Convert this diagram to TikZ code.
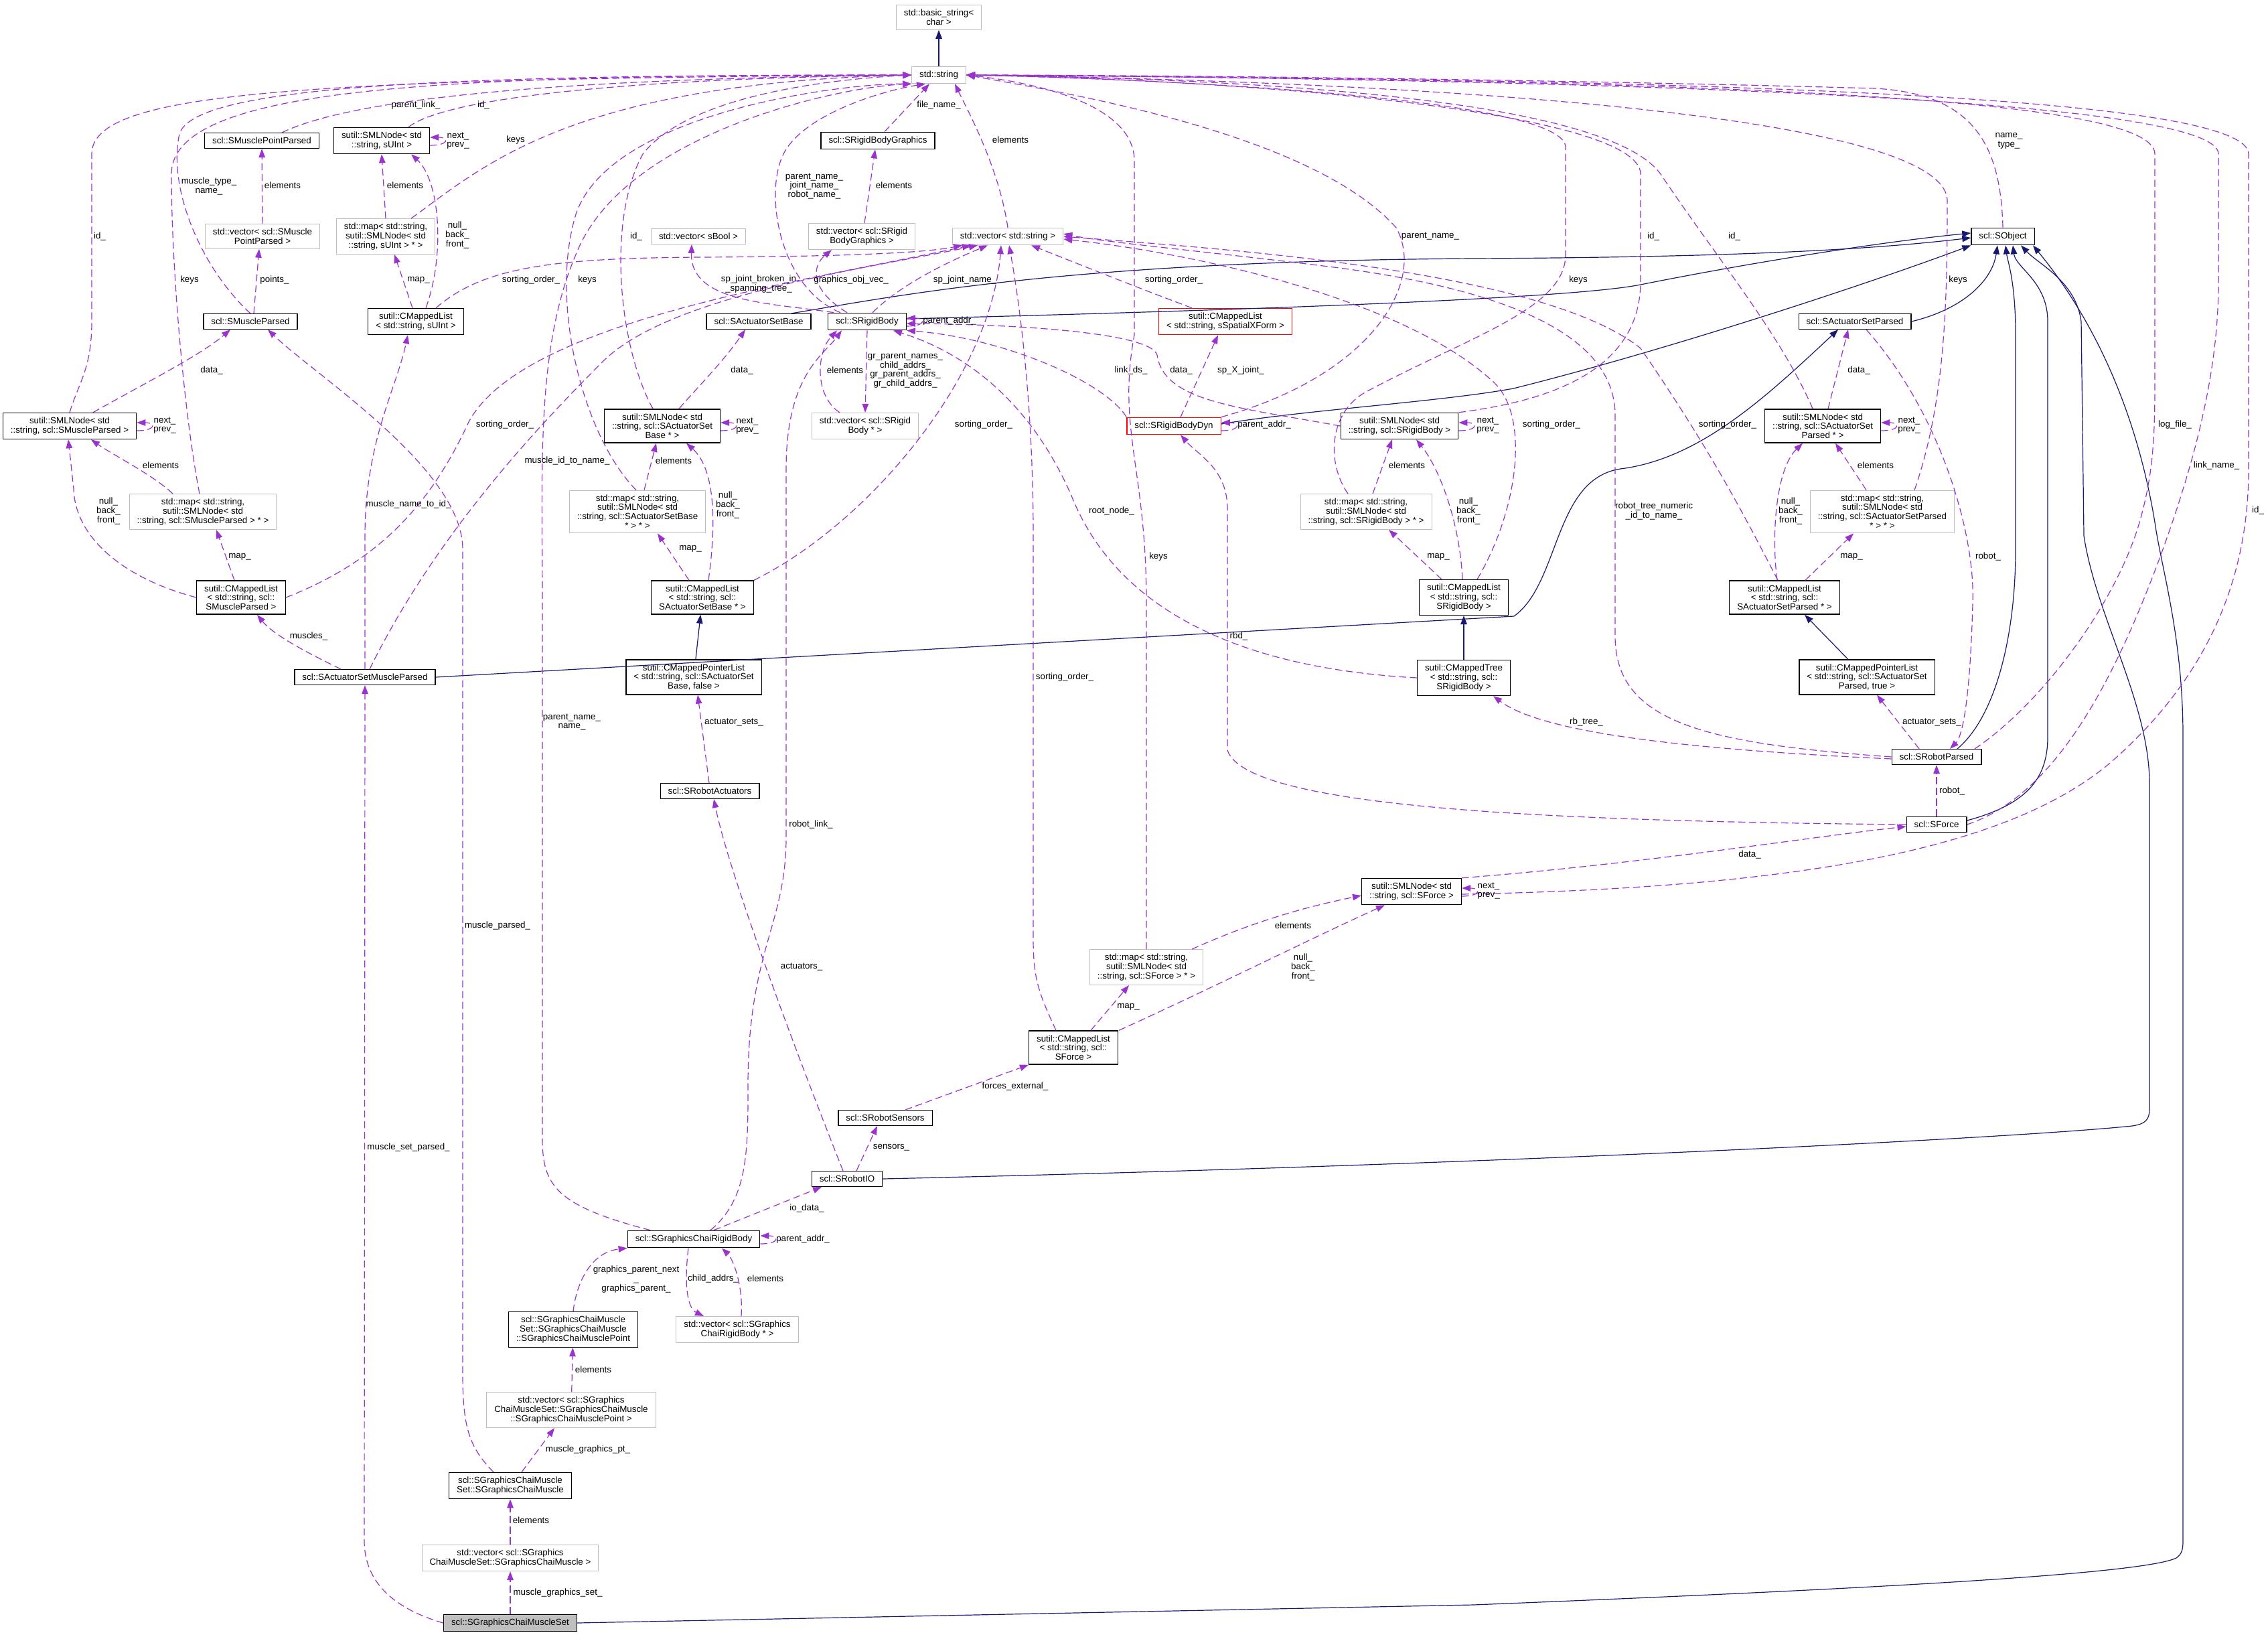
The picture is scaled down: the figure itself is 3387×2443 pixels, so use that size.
\documentclass[tikz,border=0pt]{standalone}
\usepackage{fontspec}
\setmainfont{Liberation Sans}
\usetikzlibrary{arrows.meta}
\definecolor{memberpurple}{RGB}{154,50,205}
\definecolor{inheritblue}{RGB}{25,25,112}
\definecolor{boxgray}{RGB}{191,191,191}
\newcommand{\dxfont}{\fontsize{3.8pt}{3.9pt}\selectfont}

\tikzset{
  cls/.style={draw=black, line width=0.13mm, fill=white, font=\dxfont, align=center, inner xsep=1.15mm, inner ysep=0.65mm},
  extcls/.style={cls, draw=boxgray, line width=0.1mm},
  redcls/.style={cls, draw=red},
  rootcls/.style={cls, fill=boxgray},
  member/.style={draw=memberpurple, line width=0.12mm, dash pattern=on 1.05mm off 0.55mm, -{Triangle[length=1.3mm,width=0.95mm]}},
  inherit/.style={draw=inheritblue, line width=0.12mm, -{Triangle[length=1.3mm,width=0.95mm]}},
  lbl/.style={font=\dxfont, align=center, inner sep=0pt}
}

\begin{document}
\begin{tikzpicture}[x=0.1mm, y=-0.1mm]
  \useasboundingbox (0,0) rectangle (3387,2443);

  % ---------- string types ----------
  \node[extcls] (bstr) at (1402,26) {std::basic\_string<\\char >};
  \node[extcls] (str) at (1402,112) {std::string};
  \node[extcls] (vecstr) at (1505,353) {std::vector< std::string >};
  \node[extcls] (vecbool) at (1043,353) {std::vector< sBool >};

  % ---------- muscle side ----------
  \node[cls] (mpp) at (391,210) {scl::SMusclePointParsed};
  \node[cls] (nodeUI) at (570,210) {sutil::SMLNode< std\\::string, sUInt >};
  \node[extcls] (vecmpp) at (392,353) {std::vector< scl::SMuscle\\PointParsed >};
  \node[extcls] (mapUI) at (576,353) {std::map< std::string,\\ sutil::SMLNode< std\\::string, sUInt > * >};
  \node[cls] (mp) at (374,480) {scl::SMuscleParsed};
  \node[cls] (mlUI) at (621,480) {sutil::CMappedList\\< std::string, sUInt >};
  \node[cls] (nodeMP) at (104,636) {sutil::SMLNode< std\\::string, scl::SMuscleParsed >};
  \node[extcls] (mapMP) at (303,764) {std::map< std::string,\\ sutil::SMLNode< std\\::string, scl::SMuscleParsed > * >};
  \node[cls] (mlMP) at (360,892) {sutil::CMappedList\\< std::string, scl::\\SMuscleParsed >};
  \node[cls] (asmp) at (545,1011) {scl::SActuatorSetMuscleParsed};

  % ---------- actuator set base ----------
  \node[cls] (asetbase) at (1133,480) {scl::SActuatorSetBase};
  \node[cls] (nodeASB) at (989,636) {sutil::SMLNode< std\\::string, scl::SActuatorSet\\Base * >};
  \node[extcls] (mapASB) at (952,764) {std::map< std::string,\\ sutil::SMLNode< std\\::string, scl::SActuatorSetBase\\ * > * >};
  \node[cls] (mlASB) at (1049,892) {sutil::CMappedList\\< std::string, scl::\\SActuatorSetBase * >};
  \node[cls] (mplASB) at (1036,1011) {sutil::CMappedPointerList\\< std::string, scl::SActuatorSet\\Base, false >};
  \node[cls] (ract) at (1060,1181) {scl::SRobotActuators};

  % ---------- rigid bodies ----------
  \node[cls] (rbgfx) at (1311,210) {scl::SRigidBodyGraphics};
  \node[extcls] (vecrbgfx) at (1287,353) {std::vector< scl::SRigid\\BodyGraphics >};
  \node[cls] (rb) at (1295,480) {scl::SRigidBody};
  \node[redcls] (mlxform) at (1830,480) {sutil::CMappedList\\< std::string, sSpatialXForm >};
  \node[extcls] (vecrbp) at (1292,636) {std::vector< scl::SRigid\\Body * >};
  \node[redcls] (rbdyn) at (1753,636) {scl::SRigidBodyDyn};
  \node[cls] (nodeRB) at (2090,636) {sutil::SMLNode< std\\::string, scl::SRigidBody >};
  \node[extcls] (mapRB) at (2040,764) {std::map< std::string,\\ sutil::SMLNode< std\\::string, scl::SRigidBody > * >};
  \node[cls] (mlRB) at (2186,892) {sutil::CMappedList\\< std::string, scl::\\SRigidBody >};
  \node[cls] (mtRB) at (2186,1012) {sutil::CMappedTree\\< std::string, scl::\\SRigidBody >};

  % ---------- robot side ----------
  \node[cls] (sobj) at (2991,353) {scl::SObject};
  \node[cls] (asp) at (2770,480) {scl::SActuatorSetParsed};
  \node[cls] (nodeASP) at (2722,636) {sutil::SMLNode< std\\::string, scl::SActuatorSet\\Parsed * >};
  \node[extcls] (mapASP) at (2811,764) {std::map< std::string,\\ sutil::SMLNode< std\\::string, scl::SActuatorSetParsed\\ * > * >};
  \node[cls] (mlASP) at (2665,892) {sutil::CMappedList\\< std::string, scl::\\SActuatorSetParsed * >};
  \node[cls] (mplASP) at (2788,1011) {sutil::CMappedPointerList\\< std::string, scl::SActuatorSet\\Parsed, true >};
  \node[cls] (rparsed) at (2892,1130) {scl::SRobotParsed};
  \node[cls] (sforce) at (2892,1231) {scl::SForce};
  \node[cls] (nodeF) at (2108,1331) {sutil::SMLNode< std\\::string, scl::SForce >};
  \node[extcls] (mapF) at (1712,1444) {std::map< std::string,\\ sutil::SMLNode< std\\::string, scl::SForce > * >};
  \node[cls] (mlF) at (1603,1564) {sutil::CMappedList\\< std::string, scl::\\SForce >};
  \node[cls] (rsens) at (1322,1669) {scl::SRobotSensors};
  \node[cls] (rio) at (1265,1760) {scl::SRobotIO};

  % ---------- graphics ----------
  \node[cls] (gcrb) at (1036,1850) {scl::SGraphicsChaiRigidBody};
  \node[cls] (gcmp) at (856,1985) {scl::SGraphicsChaiMuscle\\Set::SGraphicsChaiMuscle\\::SGraphicsChaiMusclePoint};
  \node[extcls] (vecgcrb) at (1101,1985) {std::vector< scl::SGraphics\\ChaiRigidBody * >};
  \node[extcls] (vecgcmp) at (853,2105) {std::vector< scl::SGraphics\\ChaiMuscleSet::SGraphicsChaiMuscle\\::SGraphicsChaiMusclePoint >};
  \node[cls] (gcm) at (762,2218) {scl::SGraphicsChaiMuscle\\Set::SGraphicsChaiMuscle};
  \node[extcls] (vecgcm) at (762,2326) {std::vector< scl::SGraphics\\ChaiMuscleSet::SGraphicsChaiMuscle >};
  \node[rootcls] (gcms) at (762,2423) {scl::SGraphicsChaiMuscleSet};

  % ---------- inheritance ----------
  \draw[inherit] (str) -- (bstr);
  \draw[inherit] (mplASB) -- (mlASB);
  \draw[inherit] (mtRB) -- (mlRB);
  \draw[inherit] ([xshift=-2.8mm]mplASP.north) -- ([xshift=3mm]mlASP.south);
  \draw[inherit] ([xshift=-3mm]asetbase.north east) .. controls (1350,440) and (1600,390) .. (2200,386) .. controls (2600,384) and (2800,372) .. ([yshift=-0.2mm]sobj.west);
  \draw[inherit] ([yshift=0.4mm]rb.east) .. controls (1900,462) and (2350,445) .. (2450,425) .. controls (2600,395) and (2800,362) .. ([yshift=0.5mm]sobj.west);
  \draw[inherit] ([yshift=0.3mm]rbdyn.east) .. controls (1950,612) and (2150,600) .. (2260,580) .. controls (2500,520) and (2800,420) .. (sobj.south west);
  \draw[inherit] (asmp.east) -- (2261,920) .. controls (2330,870) and (2320,715) .. (2420,700) .. controls (2540,685) and (2640,590) .. ([xshift=-2.5mm]asp.south);
  \draw[inherit] (asp.east) .. controls (2930,462) and (2975,420) .. ([xshift=-0.8mm]sobj.south);
  \draw[inherit] ([xshift=3.1mm]rparsed.north) .. controls (2980,1070) and (3010,950) .. (3010,820) -- (3010,500) .. controls (3010,420) and (2998,390) .. ([xshift=0.4mm]sobj.south);
  \draw[inherit] ([yshift=0.6mm]sforce.east) .. controls (3030,1200) and (3058,1160) .. (3058,1100) -- (3058,480) .. controls (3058,420) and (3010,400) .. ([xshift=1.5mm]sobj.south);
  \draw[inherit] (rio.east) .. controls (2200,1740) and (3000,1700) .. (3184,1681) .. controls (3204,1678) and (3210,1672) .. (3210,1655) -- (3210,1170) .. controls (3210,1050) and (3130,920) .. (3112,800) -- (3108,480) .. controls (3100,420) and (3045,395) .. ([xshift=2.7mm]sobj.south);
  \draw[inherit] (gcms.east) -- (2200,2396) .. controls (2800,2372) and (3200,2350) .. (3250,2326) .. controls (3258,2320) and (3260,2315) .. (3260,2300) -- (3260,1100) .. controls (3260,950) and (3228,850) .. (3218,780) .. controls (3180,550) and (3080,420) .. ([xshift=4.5mm]sobj.south);

  % ---------- members into std::string ----------
  \draw[member] (nodeMP.north) .. controls (118,570) and (137,550) .. (137,480) -- (137,230) .. controls (137,140) and (420,118) .. (str.west);
  \draw[member] ([xshift=3mm]mpp.north) .. controls (520,150) and (800,118) .. (str.west);
  \draw[member] ([xshift=4mm]nodeUI.north) .. controls (660,150) and (900,118) .. (str.west);
  \draw[member] (mp.north) .. controls (300,400) and (250,280) .. (268,200) .. controls (290,125) and (700,112) .. (str.west);
  \draw[member] ([xshift=-0.5mm]mapMP.north) .. controls (275,620) and (256,400) .. (256,260) .. controls (256,130) and (650,112) .. (str.west);
  \draw[member] ([xshift=3.8mm]mapUI.north) .. controls (720,250) and (850,125) .. (str.west);
  \draw[member] ([xshift=-1.4mm]nodeASB.north) .. controls (925,520) and (905,330) .. (960,230) .. controls (1030,140) and (1250,118) .. (str.west);
  \draw[member] ([xshift=-0.2mm]mapASB.north) .. controls (870,650) and (820,450) .. (860,320) .. controls (910,170) and (1250,125) .. (str.south west);
  \draw[member] ([xshift=-6.5mm]gcrb.north) .. controls (830,1800) and (810,1770) .. (810,1700) -- (810,900) .. controls (810,700) and (800,520) .. (860,380) .. controls (930,200) and (1250,130) .. (str.south west);
  \draw[member] ([xshift=-4mm]rb.north) .. controls (1165,430) and (1140,290) .. (1170,230) .. controls (1200,170) and (1320,135) .. ([xshift=-2mm]str.south);
  \draw[member] ([xshift=1mm]rbgfx.north) -- ([xshift=-1.4mm]str.south);
  \draw[member] (vecstr.north) .. controls (1492,250) and (1445,165) .. ([xshift=2.4mm]str.south);
  \draw[member] (rbdyn.north east) .. controls (2050,560) and (2130,420) .. (2085,340) .. controls (1960,200) and (1600,140) .. (str.east);
  \draw[member] (mapF.north) -- (1712,900) .. controls (1712,700) and (1668,640) .. (1694,500) -- (1694,240) .. controls (1694,160) and (1560,125) .. (str.east);
  \draw[member] ([xshift=-2.7mm]mapRB.north) .. controls (1980,690) and (1985,615) .. (2040,585) .. controls (2200,500) and (2338,460) .. (2338,380) -- (2338,220) .. controls (2338,150) and (1800,120) .. (str.east);
  \draw[member] (nodeRB.north east) .. controls (2300,600) and (2450,560) .. (2450,420) -- (2450,260) .. controls (2450,170) and (1900,120) .. (str.east);
  \draw[member] ([xshift=-1.5mm]nodeASP.north) .. controls (2660,500) and (2560,380) .. (2480,260) .. controls (2400,150) and (1900,118) .. (str.east);
  \draw[member] ([xshift=4.8mm]mapASP.north) .. controls (2905,600) and (2908,450) .. (2908,300) .. controls (2908,160) and (2000,120) .. (str.east);
  \draw[member] (sobj.north) .. controls (2988,220) and (2950,140) .. (2800,132) .. controls (2300,118) and (1700,112) .. (str.east);
  \draw[member] ([xshift=5.7mm]rparsed.north) .. controls (3050,1050) and (3160,900) .. (3195,780) .. controls (3218,700) and (3218,640) .. (3218,550) -- (3218,230) .. controls (3218,140) and (2500,120) .. (str.east);
  \draw[member] (sforce.east) .. controls (3060,1190) and (3150,1040) .. (3230,820) .. controls (3295,640) and (3313,520) .. (3313,420) -- (3313,230) .. controls (3313,150) and (2500,120) .. (str.east);
  \draw[member] ([yshift=-0.4mm]nodeF.east) .. controls (2700,1325) and (3000,1265) .. (3150,1140) .. controls (3300,1010) and (3358,860) .. (3358,700) -- (3358,230) .. controls (3358,140) and (2500,118) .. (str.east);

  % ---------- members into std::vector< std::string > ----------
  \draw[member] ([xshift=3mm]mlUI.north) .. controls (720,400) and (820,385) .. (1050,384) .. controls (1250,383) and (1380,378) .. ([xshift=-6.8mm]vecstr.south);
  \draw[member] (mlMP.east) .. controls (560,840) and (640,760) .. (700,630) .. controls (780,480) and (1200,420) .. ([xshift=-5.5mm]vecstr.south);
  \draw[member] ([xshift=0.7mm]asmp.north) .. controls (650,800) and (800,640) .. (900,540) .. controls (1000,440) and (1300,400) .. ([xshift=-4.5mm]vecstr.south);
  \draw[member] (mlASB.north east) .. controls (1300,780) and (1480,560) .. ([xshift=-1mm]vecstr.south);
  \draw[member] ([xshift=0.8mm]rb.north) .. controls (1350,420) and (1430,385) .. ([xshift=-3mm]vecstr.south);
  \draw[member] ([xshift=-5mm]mlxform.north) .. controls (1700,430) and (1600,390) .. ([xshift=3.5mm]vecstr.south);
  \draw[member] ([xshift=2mm]mlRB.north) .. controls (2268,760) and (2285,620) .. (2230,570) .. controls (2100,450) and (1800,380) .. ([yshift=-0.4mm]vecstr.east);
  \draw[member] ([xshift=-1mm]mlASP.north) .. controls (2610,780) and (2560,680) .. (2450,520) .. controls (2300,400) and (1800,370) .. (vecstr.east);
  \draw[member] (rparsed.west) .. controls (2550,1110) and (2412,1080) .. (2412,950) -- (2412,620) .. controls (2412,520) and (2300,440) .. (2000,400) .. controls (1800,375) and (1650,362) .. ([yshift=0.4mm]vecstr.east);
  \draw[member] ([xshift=-2.6mm]mlF.north) .. controls (1550,1480) and (1543,1460) .. (1543,1400) -- (1543,800) .. controls (1543,600) and (1522,450) .. ([xshift=0.2mm]vecstr.south);

  % ---------- rigid body members ----------
  \draw[member] ([xshift=-5mm]rb.north) .. controls (1150,452) and (1030,452) .. ([xshift=-1mm]vecbool.south);
  \draw[member] ([xshift=-3mm]rb.north) .. controls (1205,430) and (1215,395) .. ([xshift=-4.5mm]vecrbgfx.south);
  \draw[member] ([xshift=0.4mm]vecrbgfx.north) -- ([xshift=-0.4mm]rbgfx.south);
  \draw[member] (rb.south) -- (vecrbp.north);
  \draw[member] ([xshift=-3.8mm]vecrbp.north) .. controls (1215,590) and (1220,525) .. ([xshift=-4.5mm]rb.south);
  \draw[member] (rbdyn.north west) .. controls (1650,570) and (1500,505) .. (rb.south east);
  \draw[member] (nodeRB.west) .. controls (1850,608) and (1738,600) .. (1728,530) .. controls (1718,495) and (1500,484) .. ([yshift=-0.3mm]rb.east);
  \draw[member] ([xshift=1mm]rbdyn.north) -- ([xshift=-1.1mm]mlxform.south);
  \draw[member] (mtRB.west) .. controls (1750,992) and (1640,840) .. (1600,740) .. controls (1530,580) and (1420,520) .. ([xshift=-2mm]rb.south east);
  \draw[member] (sforce.west) .. controls (2300,1226) and (1860,1205) .. (1833,1120) -- (1833,760) .. controls (1833,700) and (1790,680) .. ([xshift=1mm]rbdyn.south);
  \draw[member] ([xshift=1mm]mapRB.north) -- ([xshift=-1.1mm]nodeRB.south);
  \draw[member] ([xshift=-3.3mm]mlRB.north) -- ([xshift=3.4mm]mapRB.south);
  \draw[member] ([xshift=-0.2mm]mlRB.north) .. controls (2180,780) and (2150,700) .. ([xshift=2.5mm]nodeRB.south);

  % ---------- actuator set base members ----------
  \draw[member] ([xshift=2.5mm]nodeASB.north) .. controls (1040,580) and (1080,540) .. ([xshift=-2mm]asetbase.south);
  \draw[member] ([xshift=1mm]mapASB.north) -- ([xshift=-0.9mm]nodeASB.south);
  \draw[member] ([xshift=-2mm]mlASB.north) -- ([xshift=3mm]mapASB.south);
  \draw[member] ([xshift=0.9mm]mlASB.north) .. controls (1070,780) and (1068,700) .. ([xshift=3.6mm]nodeASB.south);
  \draw[member] ([xshift=-0.1mm]ract.north) -- ([xshift=0.6mm]mplASB.south);
  \draw[member] ([xshift=-0.6mm]rio.north) .. controls (1200,1600) and (1090,1310) .. ([xshift=0.6mm]ract.south);
  \draw[member] ([xshift=1.4mm]rio.north) -- ([xshift=-1.2mm]rsens.south);

  % ---------- force members ----------
  \draw[member] ([xshift=3mm]rsens.north) -- (mlF.south west);
  \draw[member] ([xshift=2.6mm]mlF.north) -- ([xshift=-2.6mm]mapF.south);
  \draw[member] ([xshift=6.8mm]mlF.north) .. controls (1800,1480) and (1960,1400) .. ([xshift=-4mm]nodeF.south);
  \draw[member] ([xshift=6.8mm]mapF.north) .. controls (1880,1372) and (1960,1352) .. ([yshift=-0.6mm]nodeF.west);
  \draw[member] (nodeF.north east) .. controls (2450,1290) and (2700,1250) .. ([yshift=-0.3mm]sforce.west);

  % ---------- muscle members ----------
  \draw[member] (vecmpp) -- (mpp);
  \draw[member] ([xshift=0.5mm]mp.north) -- ([xshift=-0.5mm]vecmpp.south);
  \draw[member] (mapUI.north) -- (nodeUI.south);
  \draw[member] ([xshift=-0.5mm]mlUI.north) -- ([xshift=1.3mm]mapUI.south);
  \draw[member] ([xshift=1.5mm]mlUI.north) .. controls (665,380) and (657,270) .. ([xshift=4.4mm]nodeUI.south);
  \draw[member] ([xshift=3.5mm]nodeMP.north) .. controls (220,570) and (300,530) .. ([xshift=-3mm]mp.south);
  \draw[member] ([xshift=-4.5mm]mapMP.north) .. controls (230,710) and (170,680) .. ([xshift=3.2mm]nodeMP.south);
  \draw[member] (mlMP.west) .. controls (180,862) and (112,800) .. (110,730) -- ([xshift=-0.2mm]nodeMP.south);
  \draw[member] ([xshift=-1mm]mlMP.north) -- ([xshift=2mm]mapMP.south);
  \draw[member] ([xshift=-3.6mm]asmp.north) .. controls (470,980) and (410,950) .. ([xshift=2.4mm]mlMP.south);
  \draw[member] (asmp.north) -- (545,800) .. controls (545,660) and (592,580) .. ([xshift=-1.2mm]mlUI.south);
  \draw[member] ([xshift=-2.5mm]gcm.north) .. controls (700,2160) and (691,2130) .. (691,2050) -- (691,820) .. controls (691,700) and (470,560) .. ([xshift=2.6mm]mp.south);
  \draw[member] (gcms.west) .. controls (600,2405) and (544,2370) .. (544,2300) -- (asmp.south);

  % ---------- graphics members ----------
  \draw[member] ([xshift=2.5mm]gcrb.north) .. controls (1117,1790) and (1117,1720) .. (1117,1620) .. controls (1117,1420) and (1174,1380) .. (1174,1250) -- (1174,700) .. controls (1174,560) and (1230,530) .. ([xshift=-3.8mm]rb.south);
  \draw[member] ([xshift=3mm]gcrb.north) -- ([xshift=-3.8mm]rio.south);
  \draw[member] ([xshift=-0.8mm]gcrb.south) .. controls (1020,1930) and (1030,1955) .. ([xshift=-5mm]vecgcrb.north);
  \draw[member] ([xshift=0.6mm]vecgcrb.north) .. controls (1110,1920) and (1095,1880) .. ([xshift=4.2mm]gcrb.south);
  \draw[member] (gcmp.north) .. controls (860,1920) and (880,1870) .. (gcrb.south west);
  \draw[member] (vecgcmp) -- (gcmp);
  \draw[member] ([xshift=1.7mm]gcm.north) -- ([xshift=-2.5mm]vecgcmp.south);
  \draw[member] (vecgcm) -- (gcm);
  \draw[member] (gcms) -- (vecgcm);

  % ---------- actuator set parsed / robot members ----------
  \draw[member] ([xshift=0.8mm]nodeASP.north) -- ([xshift=-1mm]asp.south);
  \draw[member] ([xshift=-2.4mm]mapASP.north) -- ([xshift=1.9mm]nodeASP.south);
  \draw[member] ([xshift=-1.1mm]mlASP.north) .. controls (2645,800) and (2652,700) .. ([xshift=-3mm]nodeASP.south);
  \draw[member] ([xshift=3.1mm]mlASP.north) -- ([xshift=-4.3mm]mapASP.south);
  \draw[member] ([xshift=-2.6mm]rparsed.north) -- ([xshift=1.5mm]mplASP.south);
  \draw[member] ([xshift=1.7mm]asp.south) .. controls (2900,620) and (2950,800) .. (2946,900) .. controls (2942,1050) and (2930,1100) .. ([xshift=2mm]rparsed.north);
  \draw[member] ([yshift=-0.3mm]rparsed.west) .. controls (2500,1118) and (2300,1092) .. ([xshift=4.4mm]mtRB.south);
  \draw[member] (sforce) -- (rparsed);

  % self references (next_/prev_, parent_addr_)
  \foreach \n in {nodeUI, nodeMP, nodeASB, rb, rbdyn, nodeRB, nodeASP, nodeF, gcrb}
    \draw[member] ([yshift=-0.7mm]\n.east) .. controls +(2.9mm,0) and +(2.9mm,0) .. ([yshift=0.5mm]\n.east);

  % ---------- labels ----------
  \node[lbl] (lNodeMPid) at (149,353) {id\_};
  \node[lbl] (lMppLink) at (621,157) {parent\_link\_};
  \node[lbl] (lNodeUIid) at (722,157) {id\_};
  \node[lbl] (lMpType) at (312,278) {muscle\_type\_\\name\_};
  \node[lbl] (lMapMPkeys) at (283,418) {keys};
  \node[lbl] (lMapUIkeys) at (770,209) {keys};
  \node[lbl] (lNodeASBid) at (950,353) {id\_};
  \node[lbl] (lMapASBkeys) at (877,418) {keys};
  \node[lbl] (lGcrbName) at (854,1078) {parent\_name\_\\name\_};
  \node[lbl] (lRbNames) at (1216,278) {parent\_name\_\\joint\_name\_\\robot\_name\_};
  \node[lbl] (lRbgfxFile) at (1402,157) {file\_name\_};
  \node[lbl] (lVecstrElem) at (1509,209) {elements};
  \node[lbl] (lRbdynName) at (2136,353) {parent\_name\_};
  \node[lbl] (lMapFkeys) at (1730,831) {keys};
  \node[lbl] (lMapRBkeys) at (2357,418) {keys};
  \node[lbl] (lNodeRBid) at (2469,353) {id\_};
  \node[lbl] (lNodeASPid) at (2590,353) {id\_};
  \node[lbl] (lMapASPkeys) at (2924,418) {keys};
  \node[lbl] (lSobjName) at (3000,210) {name\_\\type\_};
  \node[lbl] (lLogFile) at (3248,634) {log\_file\_};
  \node[lbl] (lLinkName) at (3310,695) {link\_name\_};
  \node[lbl] (lNodeFid) at (3372,762) {id\_};
  \node[lbl] (lMlUIsort) at (793,418) {sorting\_order\_};
  \node[lbl] (lMlMPsort) at (754,634) {sorting\_order\_};
  \node[lbl] (lAsmpId) at (847,688) {muscle\_id\_to\_name\_};
  \node[lbl] (lMlASBsort) at (1469,634) {sorting\_order\_};
  \node[lbl] (lRbJoint) at (1441,418) {sp\_joint\_name\_};
  \node[lbl] (lMlXsort) at (1753,418) {sorting\_order\_};
  \node[lbl] (lMlRBsort) at (2317,634) {sorting\_order\_};
  \node[lbl] (lMlASPsort) at (2580,634) {sorting\_order\_};
  \node[lbl] (lRobotTree) at (2470,763) {robot\_tree\_numeric\\\_id\_to\_name\_};
  \node[lbl] (lMlFsort) at (1590,1011) {sorting\_order\_};
  \node[lbl] (lRbBroken) at (1133,424) {sp\_joint\_broken\_in\\\_spanning\_tree\_};
  \node[lbl] (lRbGfx) at (1271,418) {graphics\_obj\_vec\_};
  \node[lbl] (lGfxElem) at (1335,277) {elements};
  \node[lbl] (lRbAddrs) at (1352,553) {gr\_parent\_names\_\\child\_addrs\_\\gr\_parent\_addrs\_\\gr\_child\_addrs\_};
  \node[lbl] (lVecrbpElem) at (1262,553) {elements};
  \node[lbl] (lRbParent) at (1418,479) {parent\_addr\_};
  \node[lbl] (lLinkDs) at (1689,553) {link\_ds\_};
  \node[lbl] (lNodeRBdata) at (1764,553) {data\_};
  \node[lbl] (lXjoint) at (1853,553) {sp\_X\_joint\_};
  \node[lbl] (lRbdynParent) at (1888,634) {parent\_addr\_};
  \node[lbl] (lRootNode) at (1660,763) {root\_node\_};
  \node[lbl] (lRbd) at (1850,950) {rbd\_};
  \node[lbl] (lMapRBelem) at (2101,695) {elements};
  \node[lbl] (lMlRBmap) at (2148,831) {map\_};
  \node[lbl] (lMlRBnull) at (2193,763) {null\_\\back\_\\front\_};
  \node[lbl] (lNodeRBnext) at (2222,635) {next\_\\prev\_};
  \node[lbl] (lNodeASBdata) at (1108,553) {data\_};
  \node[lbl] (lMapASBelem) at (1006,688) {elements};
  \node[lbl] (lMlASBmap) at (1031,819) {map\_};
  \node[lbl] (lMlASBnull) at (1087,754) {null\_\\back\_\\front\_};
  \node[lbl] (lNodeASBnext) at (1116,636) {next\_\\prev\_};
  \node[lbl] (lActSets) at (1096,1078) {actuator\_sets\_};
  \node[lbl] (lActuators) at (1197,1443) {actuators\_};
  \node[lbl] (lSensors) at (1331,1713) {sensors\_};
  \node[lbl] (lForces) at (1516,1622) {forces\_external\_};
  \node[lbl] (lMlFmap) at (1685,1503) {map\_};
  \node[lbl] (lMlFnull) at (1946,1444) {null\_\\back\_\\front\_};
  \node[lbl] (lMapFelem) at (1931,1382) {elements};
  \node[lbl] (lNodeFdata) at (2613,1276) {data\_};
  \node[lbl] (lNodeFnext) at (2223,1330) {next\_\\prev\_};
  \node[lbl] (lVecmppElem) at (422,277) {elements};
  \node[lbl] (lPoints) at (410,418) {points\_};
  \node[lbl] (lMapUIelem) at (605,277) {elements};
  \node[lbl] (lMlUImap) at (625,418) {map\_};
  \node[lbl] (lMlUInull) at (683,351) {null\_\\back\_\\front\_};
  \node[lbl] (lNodeUInext) at (684,210) {next\_\\prev\_};
  \node[lbl] (lNodeMPdata) at (316,553) {data\_};
  \node[lbl] (lNodeMPnext) at (246,635) {next\_\\prev\_};
  \node[lbl] (lMapMPelem) at (240,695) {elements};
  \node[lbl] (lMlMPnull) at (162,763) {null\_\\back\_\\front\_};
  \node[lbl] (lMlMPmap) at (358,831) {map\_};
  \node[lbl] (lMuscles) at (461,950) {muscles\_};
  \node[lbl] (lNameToId) at (610,753) {muscle\_name\_to\_id\_};
  \node[lbl] (lMuscleParsed) at (743,1382) {muscle\_parsed\_};
  \node[lbl] (lSetParsed) at (610,1713) {muscle\_set\_parsed\_};
  \node[lbl] (lRobotLink) at (1211,1231) {robot\_link\_};
  \node[lbl] (lIoData) at (1205,1804) {io\_data\_};
  \node[lbl] (lGcrbParent) at (1199,1850) {parent\_addr\_};
  \node[lbl] (lChildAddrs) at (1065,1909) {child\_addrs\_};
  \node[lbl] (lVecgcrbElem) at (1143,1909) {elements};
  \node[lbl] (lGfxParent) at (950,1910) {graphics\_parent\_next\\\_\\graphics\_parent\_};
  \node[lbl] (lVecgcmpElem) at (886,2045) {elements};
  \node[lbl] (lGraphicsPt) at (878,2164) {muscle\_graphics\_pt\_};
  \node[lbl] (lVecgcmElem) at (793,2270) {elements};
  \node[lbl] (lGraphicsSet) at (833,2378) {muscle\_graphics\_set\_};
  \node[lbl] (lNodeASPdata) at (2776,553) {data\_};
  \node[lbl] (lNodeASPnext) at (2851,635) {next\_\\prev\_};
  \node[lbl] (lMapASPelem) at (2801,695) {elements};
  \node[lbl] (lMlASPnull) at (2674,763) {null\_\\back\_\\front\_};
  \node[lbl] (lMlASPmap) at (2765,831) {map\_};
  \node[lbl] (lActSetsP) at (2885,1078) {actuator\_sets\_};
  \node[lbl] (lAspRobot) at (2969,831) {robot\_};
  \node[lbl] (lRbTree) at (2369,1078) {rb\_tree\_};
  \node[lbl] (lForceRobot) at (2915,1181) {robot\_};

\end{tikzpicture}
\end{document}
